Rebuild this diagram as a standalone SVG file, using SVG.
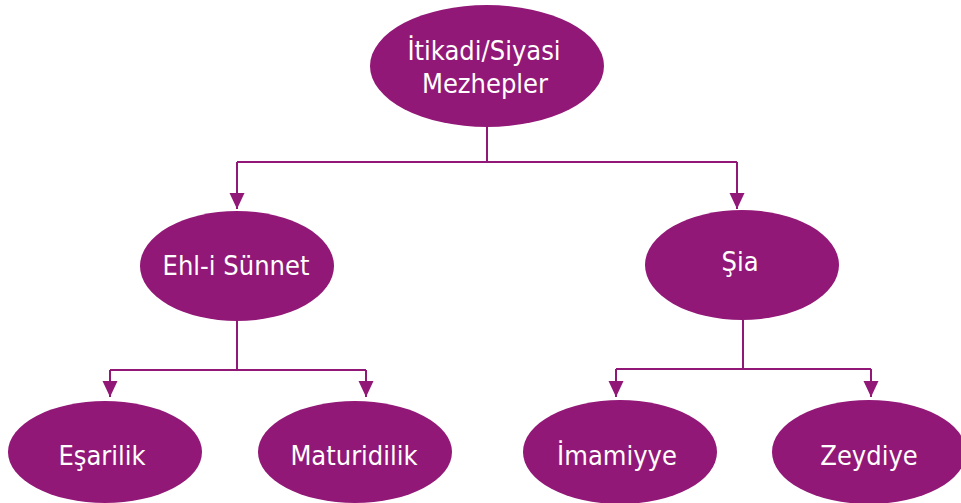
<svg xmlns="http://www.w3.org/2000/svg" width="961" height="503" viewBox="0 0 961 503">
<style>
.n{fill:#921877}
.t{fill:#fff;font-family:"DejaVu Sans Condensed","DejaVu Sans",sans-serif;font-stretch:condensed;font-size:27px;text-anchor:middle}
.c{fill:none;stroke:#921877;stroke-width:2}
</style>
<defs>
<marker id="a" markerWidth="20" markerHeight="18" refX="16" refY="7.5" orient="auto" markerUnits="userSpaceOnUse"><path d="M0,0 L16,7.5 L0,15 z" fill="#921877"/></marker>
</defs>
<rect width="961" height="503" fill="#fff"/>
<g id="connectors">
<path class="c" d="M487,127 V162"/>
<path class="c" d="M237,162 H737"/>
<path class="c" d="M237,162 V209" marker-end="url(#a)"/>
<path class="c" d="M737,162 V209" marker-end="url(#a)"/>
<path class="c" d="M237,320 V370 M110,370 H366"/>
<path class="c" d="M110,370 V397" marker-end="url(#a)"/>
<path class="c" d="M366,370 V397" marker-end="url(#a)"/>
<path class="c" d="M743,320 V369 M616,369 H871"/>
<path class="c" d="M616,369 V397" marker-end="url(#a)"/>
<path class="c" d="M871,369 V397" marker-end="url(#a)"/>
</g>
<g id="root"><ellipse class="n" cx="487" cy="66" rx="117" ry="61"/><text class="t" x="484" y="60">İtikadi/Siyasi</text><text class="t" x="485" y="93">Mezhepler</text></g>
<g id="ehlisunnet"><ellipse class="n" cx="237" cy="266" rx="97" ry="55"/><text class="t" x="236" y="275">Ehl-i Sünnet</text></g>
<g id="sia"><ellipse class="n" cx="742" cy="265" rx="97" ry="55"/><text class="t" x="740" y="271">Şia</text></g>
<g id="esarilik"><ellipse class="n" cx="105" cy="452" rx="97" ry="51"/><text class="t" x="102" y="465">Eşarilik</text></g>
<g id="maturidilik"><ellipse class="n" cx="355" cy="452" rx="97" ry="51"/><text class="t" x="354" y="465">Maturidilik</text></g>
<g id="imamiyye"><ellipse class="n" cx="620" cy="452" rx="97" ry="52"/><text class="t" x="617" y="465">İmamiyye</text></g>
<g id="zeydiye"><ellipse class="n" cx="869" cy="452" rx="97" ry="52"/><text class="t" x="869" y="465">Zeydiye</text></g>
</svg>
